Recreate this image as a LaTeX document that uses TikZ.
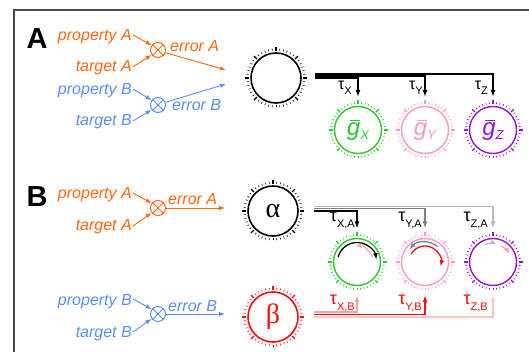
\documentclass[tikz,border=0pt]{standalone}
\usepackage{fontspec}
\setmainfont{Liberation Sans}
\newfontfamily\greekserif{Liberation Serif}
\usetikzlibrary{arrows.meta,calc}

\definecolor{cOrange}{RGB}{255,102,17}
\definecolor{cBlue}{RGB}{90,140,255}
\definecolor{cGreen}{RGB}{45,200,45}
\definecolor{cPink}{RGB}{255,150,200}
\definecolor{cPurple}{RGB}{150,20,210}
\definecolor{cRed}{RGB}{250,10,10}
\definecolor{cSalmon}{RGB}{255,160,160}
\definecolor{cLightPink}{RGB}{255,200,200}
\definecolor{cGrey}{RGB}{128,128,128}
\definecolor{cLightGrey}{RGB}{185,185,185}
\definecolor{cFrame}{RGB}{70,70,70}

\newcommand\dialticks[3]{%
  \foreach \a in {-135,-127.5,...,226}{\draw[#3, line width=0.6pt] ($(#1.center)+(\a:{#2+2.5})$) -- ($(#1.center)+(\a:{#2+4.5})$);}
  \foreach \a in {-135,-45,0,45,90,135,180}{\draw[#3, line width=1.1pt] ($(#1.center)+(\a:{#2+2})$) -- ($(#1.center)+(\a:{#2+6})$);}
}
\newcommand\gbar[1]{{\fontsize{24}{24}\selectfont\itshape\rlap{\kern3pt\rule[14pt]{10pt}{1.3pt}}g}\raisebox{-4pt}{\fontsize{13}{13}\selectfont\itshape #1}}
\newcommand\tlab[3]{{\fontsize{#2}{#2}\selectfont τ}\raisebox{-#3}{\fontsize{11}{11}\selectfont #1}}

\tikzset{
  lab/.style={font=\fontsize{16}{16}\selectfont\itshape, inner sep=0pt},
  panel/.style={font=\fontsize{29}{29}\selectfont\bfseries, inner sep=0pt},
  otimesnode/.style={circle, draw, line width=1pt, minimum size=15pt, inner sep=0pt,
    path picture={\draw[line width=1pt] (path picture bounding box.north west)--(path picture bounding box.south east)
      (path picture bounding box.north east)--(path picture bounding box.south west);}},
  arr/.style={-{Latex[length=6pt,width=4.5pt]}, line width=0.9pt},
  bigdial/.style={circle, draw, line width=1.6pt, minimum size=50pt, inner sep=0pt},
  smalldial/.style={circle, draw, line width=1.4pt, minimum size=47pt, inner sep=0pt},
  taulab/.style={inner sep=0pt, anchor=base east},
  busarr/.style={-{Latex[length=7pt,width=5pt]}, line width=1.1pt},
  turn/.style={-{Latex[length=6pt,width=5pt]}, line width=1.3pt},
}

\begin{document}
\begin{tikzpicture}[x=1pt,y=1pt]
\useasboundingbox (0,0) rectangle (529,-352);
\draw[cFrame, line width=1.3pt] (14,-352) -- (14,-10) -- (529,-10);

% ---------------- Panel A ----------------
\node[panel] (lblA) at (37,-39) {A};
\node[lab, cOrange, anchor=base east] (pA1) at (132,-41) {property A};
\node[lab, cOrange, anchor=base east] (tA1) at (132,-72) {target A};
\node[otimesnode, cOrange] (oA1) at (158,-50) {};
\draw[arr, cOrange] ([shift={(1,6)}]pA1.base east) -- (oA1.143);
\draw[arr, cOrange] ([shift={(1,5)}]tA1.base east) -- (oA1.217);
\node[lab, cOrange, anchor=base west] (eA1) at (170,-52) {error A};
\coordinate (eA1end) at (226,-70);
\draw[arr, cOrange] (oA1.-20) -- (eA1end);

\node[lab, cBlue, anchor=base east] (pB1) at (132,-95) {property B};
\node[lab, cBlue, anchor=base east] (tB1) at (132,-126) {target B};
\node[otimesnode, cBlue] (oB1) at (158,-105) {};
\draw[arr, cBlue] ([shift={(1,6)}]pB1.base east) -- (oB1.143);
\draw[arr, cBlue] ([shift={(1,5)}]tB1.base east) -- (oB1.217);
\node[lab, cBlue, anchor=base west] (eB1) at (172,-111) {error B};
\coordinate (eB1end) at (226,-84);
\draw[arr, cBlue] (oB1.20) -- (eB1end);

\node[bigdial] (dA) at (276,-78) {};
\dialticks{dA}{25}{black}

\node[smalldial, cGreen] (gX) at (358,-130) {\gbar{X}};
\node[smalldial, cPink] (gY) at (425,-130) {\gbar{Y}};
\node[smalldial, cPurple] (gZ) at (493,-130) {\gbar{Z}};
\dialticks{gX}{23.5}{cGreen}
\dialticks{gY}{23.5}{cPink}
\dialticks{gZ}{23.5}{cPurple}

\draw[busarr] ([xshift=13pt,yshift=4pt]dA.east) -| ([yshift=9pt]gZ.north);
\draw[busarr] ([xshift=13pt,yshift=2pt]dA.east) -| ([yshift=9pt]gY.north);
\draw[busarr] ([xshift=13pt,yshift=0pt]dA.east) -| ([yshift=9pt]gX.north);
\node[taulab] (tauX) at (352,-90) {\tlab{X}{16}{5pt}};
\node[taulab] (tauY) at (423,-90) {\tlab{Y}{16}{5pt}};
\node[taulab] (tauZ) at (488,-90) {\tlab{Z}{16}{5pt}};

% ---------------- Panel B ----------------
\node[panel] (lblB) at (37,-197) {B};
\node[lab, cOrange, anchor=base east] (pA2) at (132,-199) {property A};
\node[lab, cOrange, anchor=base east] (tA2) at (132,-231) {target A};
\node[otimesnode, cOrange] (oA2) at (158,-208) {};
\draw[arr, cOrange] ([shift={(1,6)}]pA2.base east) -- (oA2.143);
\draw[arr, cOrange] ([shift={(1,5)}]tA2.base east) -- (oA2.217);
\node[lab, cOrange, anchor=base west] (eA2) at (168,-205) {error A};
\coordinate (eA2end) at (225,-208);
\draw[arr, cOrange] (oA2.east) -- (eA2end);

\node[lab, cBlue, anchor=base east] (pB2) at (132,-305) {property B};
\node[lab, cBlue, anchor=base east] (tB2) at (132,-337) {target B};
\node[otimesnode, cBlue] (oB2) at (158,-314) {};
\draw[arr, cBlue] ([shift={(1,6)}]pB2.base east) -- (oB2.143);
\draw[arr, cBlue] ([shift={(1,5)}]tB2.base east) -- (oB2.217);
\node[lab, cBlue, anchor=base west] (eB2) at (168,-311) {error B};
\coordinate (eB2end) at (225,-314);
\draw[arr, cBlue] (oB2.east) -- (eB2end);

\node[bigdial] (dAl) at (273,-211) {\greekserif\fontsize{28}{28}\selectfont α};
\dialticks{dAl}{25}{black}
\node[bigdial, cRed] (dBe) at (273,-317) {\greekserif\fontsize{28}{28}\selectfont β};
\dialticks{dBe}{25}{cRed}

\node[smalldial, cGreen] (gXB) at (357,-262) {};
\node[smalldial, cPink] (gYB) at (425,-262) {};
\node[smalldial, cPurple] (gZB) at (493,-262) {};
\dialticks{gXB}{23.5}{cGreen}
\dialticks{gYB}{23.5}{cPink}
\dialticks{gZB}{23.5}{cPurple}

% alpha bus
\draw[busarr, cLightGrey] ([xshift=15pt,yshift=4.5pt]dAl.east) -| ([yshift=9.5pt]gZB.north);
\draw[busarr, cGrey] ([xshift=15pt,yshift=2.3pt]dAl.east) -| ([yshift=9.5pt]gYB.north);
\draw[busarr, black] ([xshift=15pt,yshift=0pt]dAl.east) -| ([yshift=9.5pt]gXB.north);
\node[taulab] (tauXA) at (355,-222) {\tlab{X,A}{18}{6pt}};
\node[taulab] (tauYA) at (422,-222) {\tlab{Y,A}{18}{6pt}};
\node[taulab] (tauZA) at (488,-222) {\tlab{Z,A}{18}{6pt}};

% beta bus
\draw[busarr, cLightPink] ([xshift=15pt,yshift=0pt]dBe.east) -| ([yshift=-9pt]gZB.south);
\draw[busarr, cRed, line width=1.6pt] ([xshift=15pt,yshift=2.5pt]dBe.east) -| ([yshift=-9pt]gYB.south);
\draw[busarr, cSalmon] ([xshift=15pt,yshift=5pt]dBe.east) -| ([yshift=-9pt]gXB.south);
\node[taulab, cRed] (tauXB) at (355,-304) {\tlab{X,B}{18}{6pt}};
\node[taulab, cRed] (tauYB) at (422,-304) {\tlab{Y,B}{18}{6pt}};
\node[taulab, cRed] (tauZB) at (488,-304) {\tlab{Z,B}{18}{6pt}};

% rotation arrows inside the dials
\draw[turn, black] ($(gXB.center)+(165:19.5)$) arc[start angle=165, end angle=8, radius=19.5];
\draw[turn, cSalmon, line width=1.2pt] ($(gXB.center)+(18:16)$) arc[start angle=18, end angle=95, radius=16];
\draw[turn, cGrey] ($(gYB.center)+(50:20)$) arc[start angle=50, end angle=140, radius=20];
\draw[turn, cRed] ($(gYB.center)+(150:16)$) arc[start angle=150, end angle=-15, radius=16];
\draw[turn, cLightGrey, line width=1.2pt] ($(gZB.center)+(116:19)$) arc[start angle=116, end angle=78, radius=19];
\draw[turn, cSalmon, line width=1.2pt] ($(gZB.center)+(62:18)$) arc[start angle=62, end angle=26, radius=18];
\end{tikzpicture}
\end{document}
